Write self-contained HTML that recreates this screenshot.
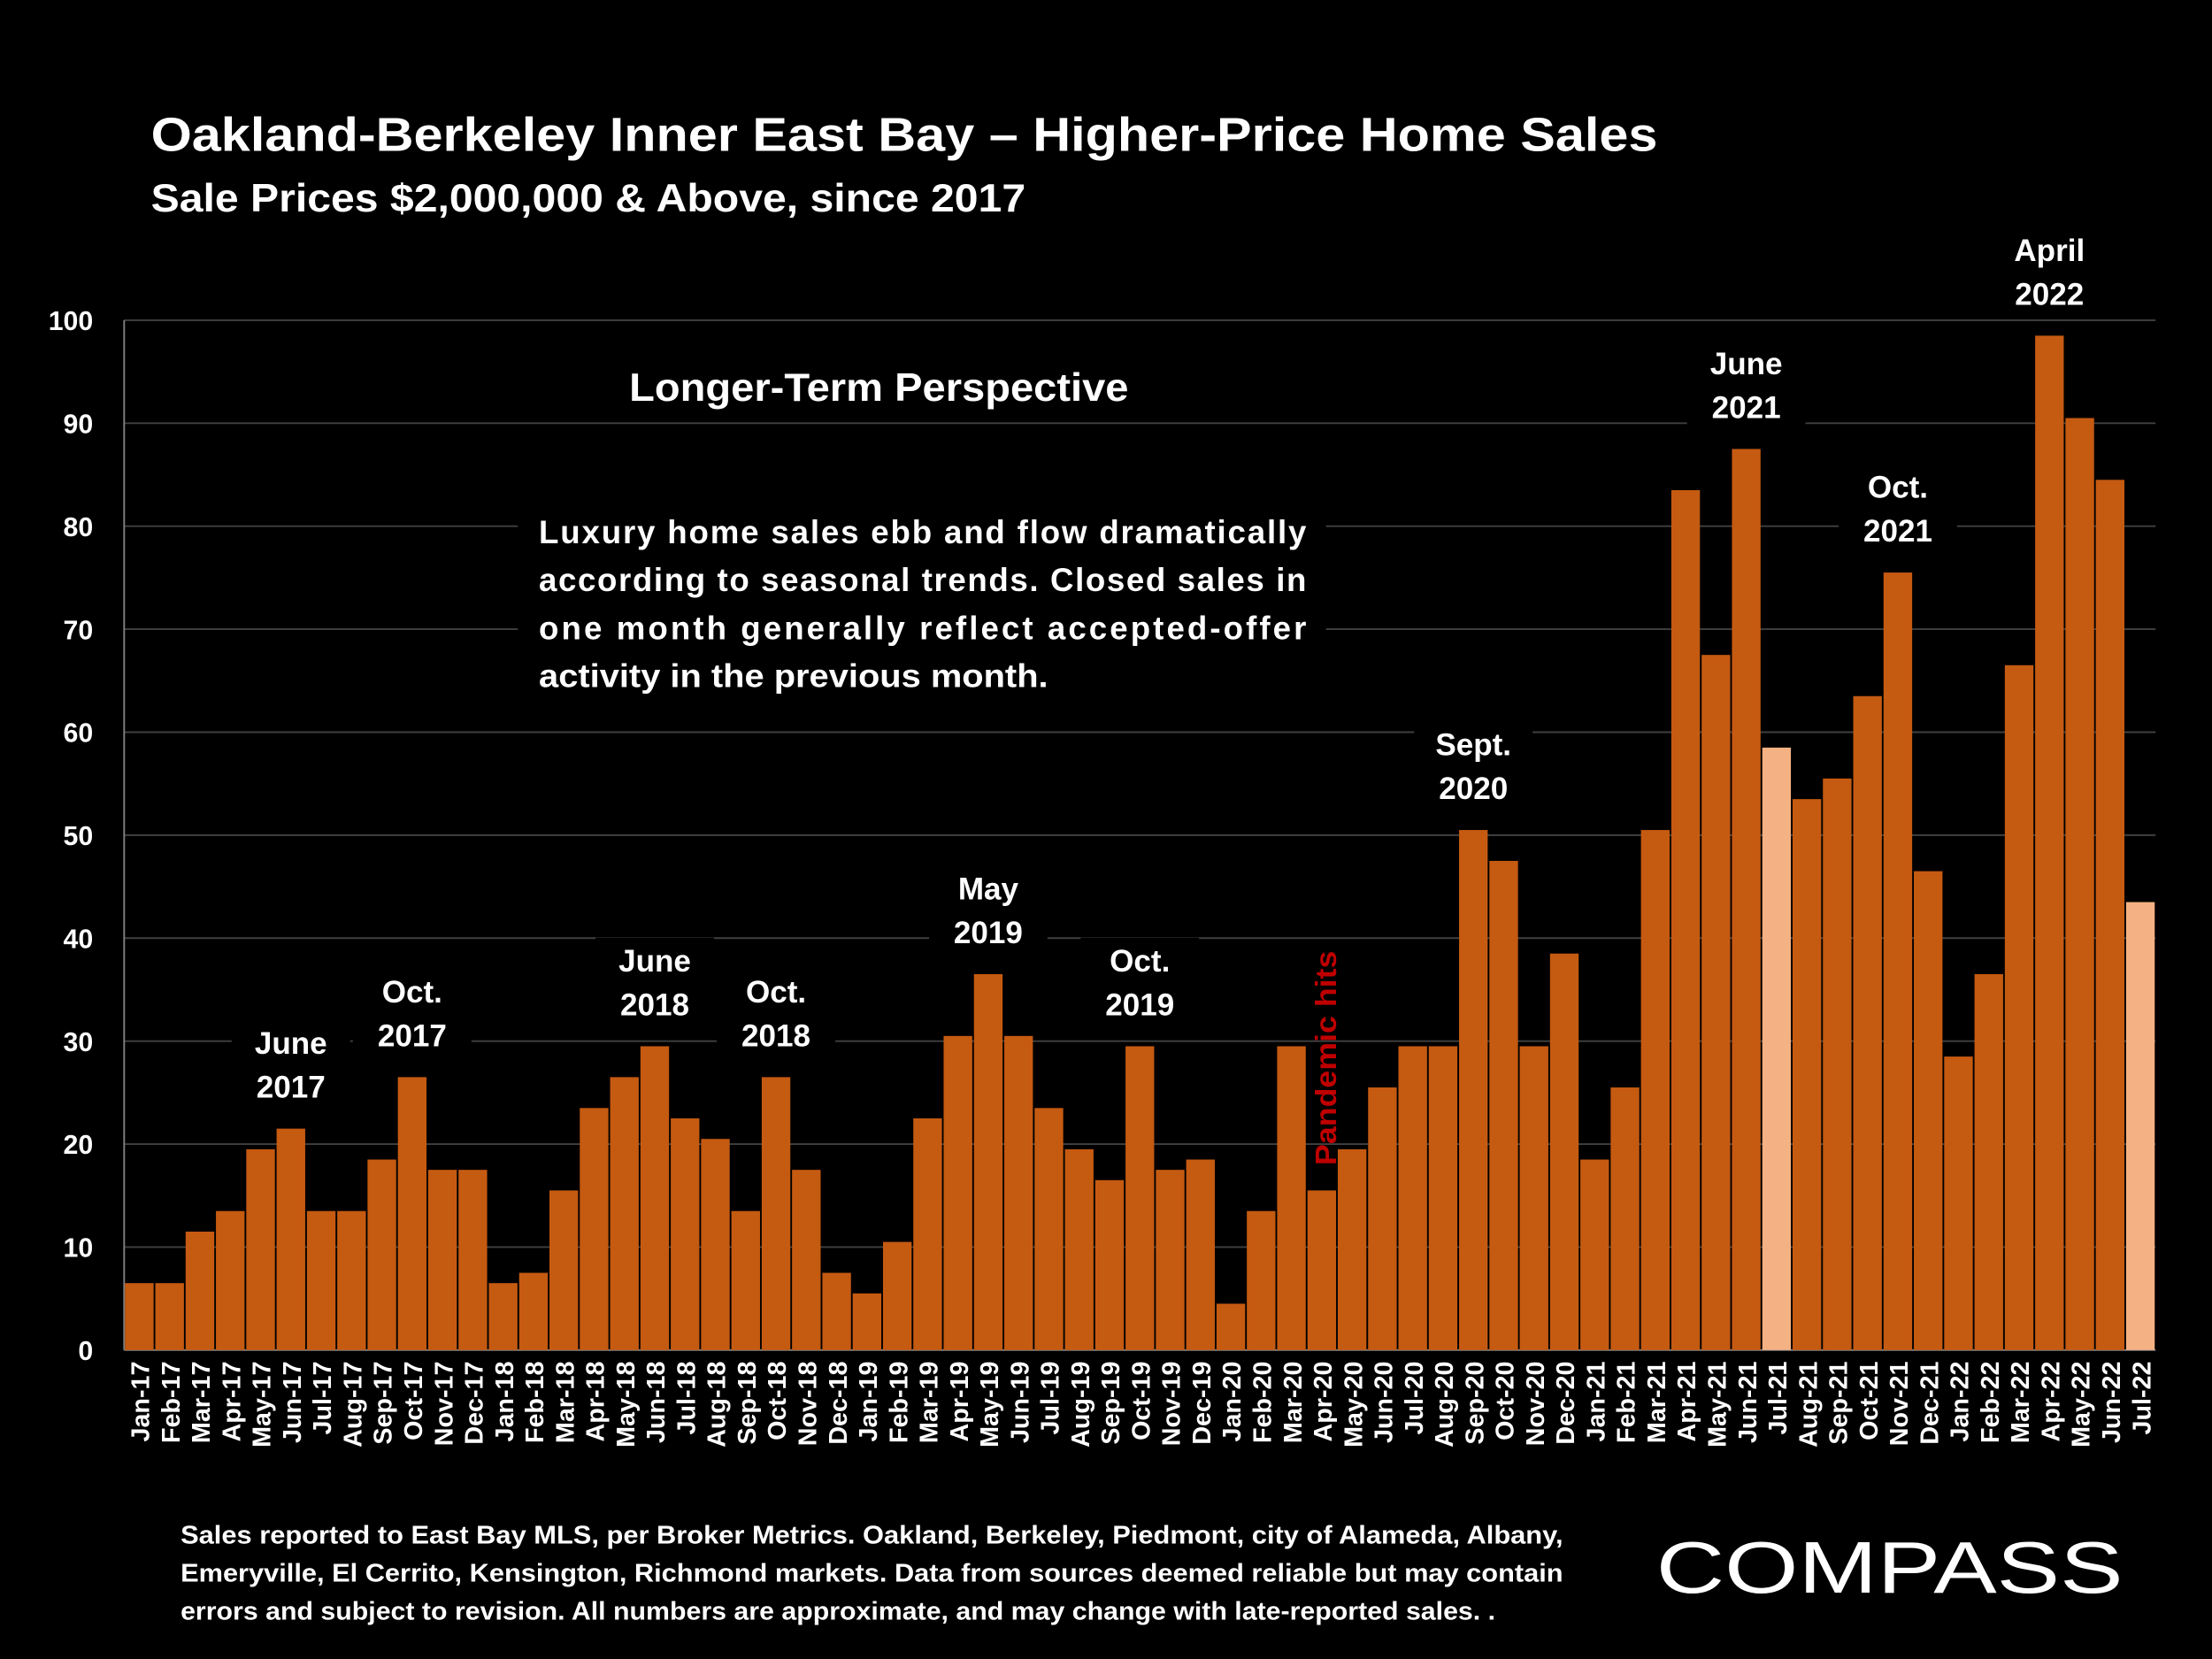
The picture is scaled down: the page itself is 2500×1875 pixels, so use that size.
<!DOCTYPE html>
<html><head><meta charset="utf-8"><style>
html,body{margin:0;padding:0;background:#000;}
svg{display:block;font-family:"Liberation Sans",sans-serif;font-weight:bold;}
</style></head><body>
<svg id="chart" width="2500" height="1875" viewBox="0 0 1568 1176" xmlns="http://www.w3.org/2000/svg">
<rect x="0" y="0" width="1568" height="1176" fill="#000"/>
<text x="107" y="107" fill="#fff" font-size="34" textLength="1068" lengthAdjust="spacingAndGlyphs">Oakland-Berkeley Inner East Bay – Higher-Price Home Sales</text>
<text x="107" y="150" fill="#fff" font-size="28" textLength="620" lengthAdjust="spacingAndGlyphs">Sale Prices $2,000,000 &amp; Above, since 2017</text>
<g id="grid"></g>
<g id="yticks"></g>
<g id="annbg"></g>
<g id="bars"></g>
<g id="xticks"></g>
<g id="annots"></g>
<g>
<rect x="367" y="358" width="573" height="142" fill="#000"/>
<text x="623" y="284" fill="#fff" font-size="28" text-anchor="middle" textLength="354" lengthAdjust="spacingAndGlyphs">Longer-Term Perspective</text>
<text x="382" y="385" fill="#fff" font-size="23" textLength="544" lengthAdjust="spacing">Luxury home sales ebb and flow dramatically</text>
<text x="382" y="419" fill="#fff" font-size="23" textLength="544" lengthAdjust="spacing">according to seasonal trends. Closed sales in</text>
<text x="382" y="453" fill="#fff" font-size="23" textLength="544" lengthAdjust="spacing">one month generally reflect accepted-offer</text>
<text x="382" y="487" fill="#fff" font-size="23" textLength="361" lengthAdjust="spacingAndGlyphs">activity in the previous month.</text>
</g>
<text transform="translate(947,826) rotate(-90)" fill="#c00000" font-size="21" textLength="152" lengthAdjust="spacingAndGlyphs">Pandemic hits</text>
<g fill="#fff" font-size="18">
<text x="128" y="1094" textLength="980" lengthAdjust="spacingAndGlyphs">Sales reported to East Bay MLS, per Broker Metrics. Oakland, Berkeley, Piedmont, city of Alameda, Albany,</text>
<text x="128" y="1121" textLength="980" lengthAdjust="spacingAndGlyphs">Emeryville, El Cerrito, Kensington, Richmond markets. Data from sources deemed reliable but may contain</text>
<text x="128" y="1148" textLength="932" lengthAdjust="spacingAndGlyphs">errors and subject to revision. All numbers are approximate, and may change with late-reported sales. .</text>
</g>
<text x="1174" y="1129" fill="#fff" font-size="52" style="font-weight:normal" textLength="331" lengthAdjust="spacingAndGlyphs">COMPASS</text>
</svg>
<script>
const categories=["Jan-17","Feb-17","Mar-17","Apr-17","May-17","Jun-17","Jul-17","Aug-17","Sep-17","Oct-17","Nov-17","Dec-17","Jan-18","Feb-18","Mar-18","Apr-18","May-18","Jun-18","Jul-18","Aug-18","Sep-18","Oct-18","Nov-18","Dec-18","Jan-19","Feb-19","Mar-19","Apr-19","May-19","Jun-19","Jul-19","Aug-19","Sep-19","Oct-19","Nov-19","Dec-19","Jan-20","Feb-20","Mar-20","Apr-20","May-20","Jun-20","Jul-20","Aug-20","Sep-20","Oct-20","Nov-20","Dec-20","Jan-21","Feb-21","Mar-21","Apr-21","May-21","Jun-21","Jul-21","Aug-21","Sep-21","Oct-21","Nov-21","Dec-21","Jan-22","Feb-22","Mar-22","Apr-22","May-22","Jun-22","Jul-22"];
const sales=[6,6,11,13,19,21,13,13,18,26,17,17,6,7,15,23,26,29,22,20,13,26,17,7,5,10,22,30,36,30,23,19,16,29,17,18,4,13,29,15,19,25,29,29,50,47,29,38,18,25,50,83,67,87,58,53,55,63,75,46,28,36,66,98,90,84,43];
const highlighted=["Jul-21","Jul-22"];
const yTicks=[0,10,20,30,40,50,60,70,80,90,100];
const annotCats=["Jun-17","Oct-17","Jun-18","Oct-18","May-19","Oct-19","Sep-20","Jun-21","Nov-21","Apr-22"];
const annotLabels=[["June","2017"],["Oct.","2017"],["June","2018"],["Oct.","2018"],["May","2019"],["Oct.","2019"],["Sept.","2020"],["June","2021"],["Oct.","2021"],["April","2022"]];

const NS="http://www.w3.org/2000/svg";
const X0=88,X1=1528,Y0=957,Y100=227;
const step=(X1-X0)/categories.length;
const y=v=>Y0-(v/100)*(Y0-Y100);
const x=i=>X0+i*step;
function mk(tag,attrs,parent){const e=document.createElementNS(NS,tag);for(const k in attrs)e.setAttribute(k,attrs[k]);parent.appendChild(e);return e;}
const grid=document.getElementById('grid'),yt=document.getElementById('yticks'),bars=document.getElementById('bars'),xt=document.getElementById('xticks'),an=document.getElementById('annots'),abg=document.getElementById('annbg');
yTicks.forEach(t=>{
  const l=mk('line',{x1:X0,x2:X1,y1:y(t),y2:y(t),stroke:t===0?'#808080':'#404040','stroke-width':1.2},grid);
  
  
  const tx=mk('text',{x:66,y:y(t)+7,fill:'#fff','font-size':19,'text-anchor':'end'},yt);
  tx.textContent=t;
  
  
});
mk('line',{x1:X0,x2:X0,y1:Y100,y2:Y0,stroke:'#808080','stroke-width':1.2},grid);
categories.forEach((c,i)=>{
  const v=sales[i];const hi=highlighted.includes(c);
  const r=mk('rect',{x:x(i)+0.6,y:y(v+0.5),width:step-1.2,height:Y0-y(v+0.5),fill:hi?'#f4b183':'#c55a11'},bars);
  
  
  const cx=x(i)+step/2;
  const t=mk('text',{transform:`translate(${cx+7},${Y0+8}) rotate(-90)`,fill:'#fff','font-size':18,'text-anchor':'end'},xt);
  t.textContent=c;
  
  
});
annotCats.forEach((c,k)=>{
  const i=categories.indexOf(c);const cx=x(i)+step/2;const top=y(sales[i]+0.5);
  const b2=top-22,b1=b2-31;
  mk('rect',{x:cx-42,y:b1-24,width:84,height:64,fill:'#000'},abg);
  [b1,b2].forEach((b,j)=>{
    const t=mk('text',{x:cx,y:b,fill:'#fff','font-size':22,'text-anchor':'middle'},an);
    t.textContent=annotLabels[k][j];
    
    
  });
});
</script>
</body></html>
